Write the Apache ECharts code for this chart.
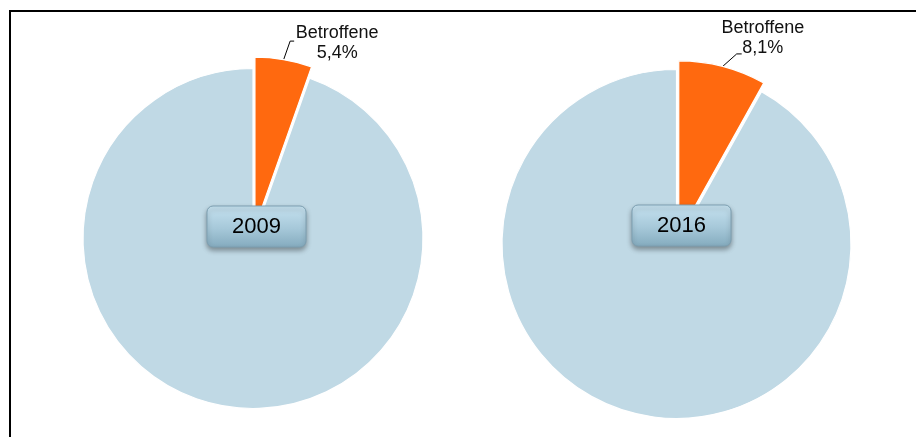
<!DOCTYPE html>
<html>
<head>
<meta charset="utf-8">
<script src="https://cdn.jsdelivr.net/npm/echarts@6/dist/echarts.min.js"></script>
<style>
  html, body { margin: 0; padding: 0; background: #fff; }
  #chart { width: 916px; height: 437px; }
</style>
</head>
<body>
<div id="chart"></div>
<script>
// Anteil der Betroffenen je Erhebungsjahr
const years = ['2009', '2016'];
const affectedLabel = 'Betroffene';
const otherLabel = 'Nicht Betroffene';
const affectedShares = [5.4, 8.1];
const otherShares = [94.6, 91.9];

const orange = '#FF690F';
const lightBlue = '#C0D9E5';

const pieCenters = [[253, 238.5], [676.5, 244]];
const pieRadii = [170, 174.5];
const explode = [11.5, 9];
// Verschiebung der Beschriftung und Knick der Führungslinie je Kreis
const labelShift = [[0, 2], [-15, -10]];
const leaderBend = [[6.5, -18.5, 4], [14, -12.5, 5]];

function fmt(v) {
  return v.toFixed(1).replace('.', ',') + '%';
}

const chart = echarts.init(document.getElementById('chart'), null, { renderer: 'canvas' });

const series = years.map(function (year, i) {
  return {
    type: 'pie',
    name: year,
    center: pieCenters[i],
    radius: [0, pieRadii[i]],
    startAngle: 90,
    clockwise: true,
    animation: false,
    selectedMode: 'single',
    selectedOffset: explode[i],
    silent: true,
    itemStyle: { borderColor: '#ffffff', borderWidth: 1.2 },
    label: { show: false },
    labelLine: { show: false },
    labelLayout: function (params) {
      const pts = params.labelLinePoints;
      if (!pts) {
        return { dx: labelShift[i][0], dy: labelShift[i][1] };
      }
      const p0 = pts[0];
      const b = leaderBend[i];
      const p1 = [p0[0] + b[0], p0[1] + b[1]];
      const p2 = [p1[0] + b[2], p1[1]];
      return {
        dx: labelShift[i][0],
        dy: labelShift[i][1],
        labelLinePoints: [p0, p1, p2]
      };
    },
    data: [
      {
        name: affectedLabel,
        value: affectedShares[i],
        selected: true,
        itemStyle: { color: orange },
        label: {
          show: true,
          position: 'outside',
          distanceToLabelLine: 2,
          formatter: function (p) {
            return '{c|' + p.name + '}\n{c|' + fmt(p.value) + '}';
          },
          rich: {
            c: {
              align: 'center',
              fontFamily: 'Liberation Sans, Arial, sans-serif',
              fontSize: 18,
              lineHeight: 20,
              color: '#111111'
            }
          }
        },
        labelLine: {
          show: true,
          length: 19,
          length2: 7,
          lineStyle: { color: '#000000', width: 1 }
        }
      },
      {
        name: otherLabel,
        value: otherShares[i],
        itemStyle: { color: lightBlue }
      }
    ]
  };
});

// Rahmen oben und links
const graphics = [
  {
    type: 'polyline',
    silent: true,
    z: 100,
    shape: { points: [[10, 437], [10, 11], [916, 11]] },
    style: { stroke: '#000000', lineWidth: 2, fill: null }
  }
];

// Jahres-Schilder über den Kreisen
const yearBoxes = [[256.5, 226.5], [681.5, 225.5]];
years.forEach(function (year, i) {
  const cx = yearBoxes[i][0], cy = yearBoxes[i][1];
  graphics.push({
    type: 'rect',
    silent: true,
    z: 100,
    shape: { x: cx - 49.5, y: cy - 20.5, width: 99, height: 41, r: 6 },
    style: {
      fill: {
        type: 'linear', x: 0, y: 0, x2: 0, y2: 1,
        colorStops: [
          { offset: 0, color: '#C6E2F0' },
          { offset: 0.55, color: '#A6C8D9' },
          { offset: 1, color: '#84ABBE' }
        ]
      },
      stroke: '#7C9FB1',
      lineWidth: 1,
      shadowBlur: 5,
      shadowOffsetY: 3,
      shadowColor: 'rgba(0,0,0,0.35)'
    }
  });
  graphics.push({
    type: 'text',
    silent: true,
    z: 101,
    x: cx,
    y: cy + 0.5,
    style: {
      text: year,
      align: 'center',
      verticalAlign: 'middle',
      font: '22px "Liberation Sans", Arial, sans-serif',
      fill: '#000000'
    }
  });
});

chart.setOption({
  backgroundColor: '#ffffff',
  animation: false,
  series: series,
  graphic: { elements: graphics }
});
</script>
</body>
</html>
